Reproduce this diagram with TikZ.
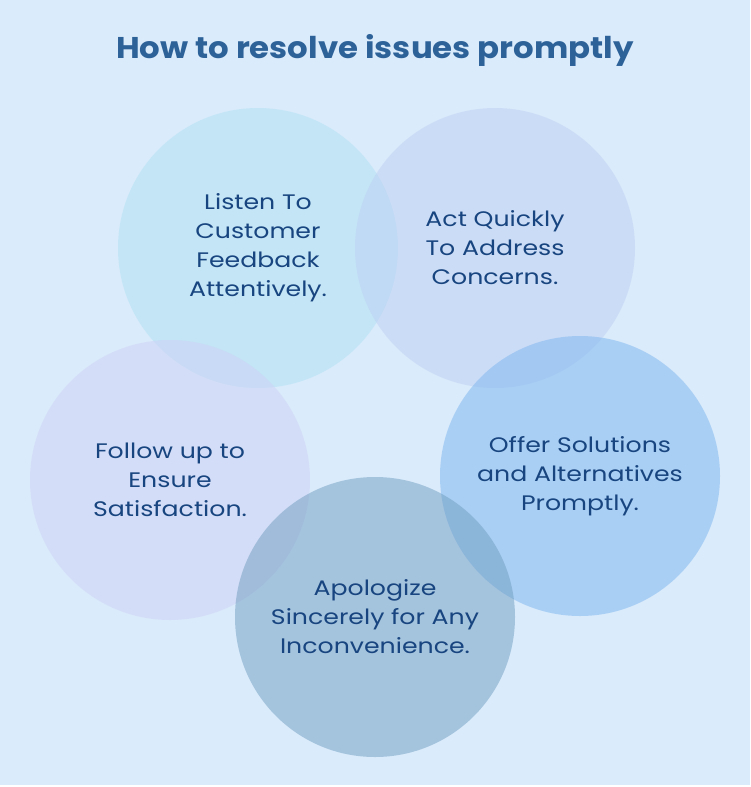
\documentclass[tikz,border=0pt]{standalone}
\usepackage{fontspec}
\setmainfont{Poppins}
\newfontfamily\bubblefont[FakeStretch=1.2]{Poppins}
\newfontfamily\headfont[FakeStretch=1.08]{Poppins}
\usepackage{tikz}

\definecolor{pagebg}{HTML}{DAEBFB}
\definecolor{titleblue}{HTML}{2D6299}
\definecolor{textblue}{HTML}{18457F}
\definecolor{listenfill}{HTML}{AEE1F3}
\definecolor{actfill}{HTML}{BECFF3}
\definecolor{offerfill}{HTML}{7CB5EF}
\definecolor{apologyfill}{HTML}{709DC1}
\definecolor{followfill}{HTML}{CED1F5}

\begin{document}
\begin{tikzpicture}[
x=1pt, y=-1pt,
bubble/.style={circle, minimum size=280pt, inner sep=0pt, fill opacity=0.5, text opacity=1, align=center, text=textblue, font=\bubblefont\fontsize{21}{29}\selectfont},
heading/.style={font=\headfont\fontsize{30}{36}\selectfont\bfseries, text=titleblue}
]
\useasboundingbox (0,0) rectangle (750,787);
\fill[white] (0,0) rectangle (750,787);
\fill[pagebg] (0,0) rectangle (750,785);

\node[heading] (title) at (375,50) {How to resolve issues promptly};

\node[bubble, fill=listenfill] (listen) at (258,248) {Listen To\\Customer\\Feedback\\Attentively.};
\node[bubble, fill=actfill] (act) at (495,248) {Act Quickly\\To Address\\Concerns.};
\node[bubble, fill=offerfill] (offer) at (580,476) {Offer Solutions\\and Alternatives\\Promptly.};
\node[bubble, fill=followfill] (follow) at (170,480) {Follow up to\\Ensure\\Satisfaction.};
\node[bubble, fill=apologyfill] (apology) at (375,617) {Apologize\\Sincerely for Any\\Inconvenience.};
\end{tikzpicture}
\end{document}
